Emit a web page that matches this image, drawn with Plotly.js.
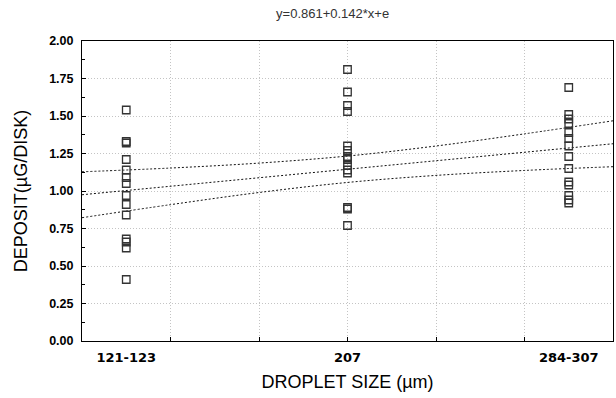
<!DOCTYPE html>
<html>
<head>
<meta charset="utf-8">
<script src="https://cdn.plot.ly/plotly-3.0.1.min.js"></script>
<style>html,body{margin:0;padding:0;background:#fff;}#chart{width:616px;height:398px;}</style>
</head>
<body>
<div id="chart"></div>
<script>
// Category codes and labels
var categoryCodes = [1, 2, 3];
var categoryLabels = ['121-123', '207', '284-307'];

// Deposit values (µG/DISK) per droplet-size group
var deposit121 = [1.54, 1.33, 1.32, 1.21, 1.14, 1.09, 1.05, 0.97, 0.91, 0.84, 0.68, 0.66, 0.62, 0.41];
var deposit207 = [1.81, 1.66, 1.57, 1.53, 1.30, 1.27, 1.23, 1.21, 1.17, 1.14, 1.12, 0.89, 0.88, 0.77];
var deposit284 = [1.69, 1.51, 1.48, 1.45, 1.39, 1.35, 1.30, 1.23, 1.15, 1.06, 1.04, 0.97, 0.94, 0.92];

// Regression line and confidence band
var bandX = [0.8, 1.2, 1.6, 2.0, 2.4, 2.8, 3.2];
var fitY = [0.975, 1.031, 1.088, 1.145, 1.202, 1.259, 1.315];
var upperY = [1.128, 1.153, 1.186, 1.233, 1.300, 1.381, 1.468];
var lowerY = [0.822, 0.909, 0.990, 1.057, 1.104, 1.137, 1.162];

// Axis ticks
var xGridVals = [1.2, 1.6, 2.0, 2.4, 2.8];
var yTickVals = [0, 0.25, 0.5, 0.75, 1.0, 1.25, 1.5, 1.75, 2.0];
var yTickText = ['0.00', '0.25', '0.50', '0.75', '1.00', '1.25', '1.50', '1.75', '2.00'];

var groups = [deposit121, deposit207, deposit284];
var px = [], py = [];
groups.forEach(function (g, i) {
  g.forEach(function (v) { px.push(categoryCodes[i]); py.push(v); });
});

var FONT = 'Liberation Sans, Arial, Helvetica, sans-serif';
var WIDE = 'DejaVu Sans, Liberation Sans, sans-serif';
var lineStyle = {color: '#111', width: 1, dash: '2px,2px', shape: 'spline'};

var traces = [
  {x: bandX, y: upperY, xaxis: 'x', yaxis: 'y', mode: 'lines', line: lineStyle, hoverinfo: 'skip', showlegend: false},
  {x: bandX, y: fitY, xaxis: 'x', yaxis: 'y', mode: 'lines', line: {color: '#111', width: 1, dash: '2px,2px'}, hoverinfo: 'skip', showlegend: false},
  {x: bandX, y: lowerY, xaxis: 'x', yaxis: 'y', mode: 'lines', line: lineStyle, hoverinfo: 'skip', showlegend: false},
  {x: px, y: py, xaxis: 'x2', yaxis: 'y', mode: 'markers', type: 'scatter',
   marker: {symbol: 'square-open', size: 7.5, color: '#333', line: {width: 1.3, color: '#333'}}, showlegend: false}
];

var layout = {
  width: 616, height: 398,
  margin: {l: 82, r: 3, t: 41, b: 57},
  paper_bgcolor: '#fff', plot_bgcolor: '#fff',
  font: {family: FONT, color: '#000'},
  showlegend: false,
  title: {text: 'y=0.861+0.142*x+e', font: {family: FONT, size: 13, color: '#333'},
          xref: 'container', x: 0.54, xanchor: 'center', yref: 'container', y: 0.967, yanchor: 'middle'},
  xaxis: {
    range: [0.8, 3.2], tickmode: 'array', tickvals: xGridVals, showticklabels: false,
    showgrid: true, gridcolor: '#c4c4c4', griddash: '1px,2px', gridwidth: 1,
    ticks: 'inside', ticklen: 4, tickcolor: '#000',
    showline: true, linecolor: '#000', linewidth: 1, mirror: true, zeroline: false
  },
  xaxis2: {
    overlaying: 'x', anchor: 'y', side: 'bottom',
    range: [0.8, 3.2], tickmode: 'array', tickvals: categoryCodes, ticktext: categoryLabels,
    tickfont: {family: WIDE, size: 13, weight: 'bold', color: '#000'},
    ticklabelstandoff: 7,
    showgrid: false, ticks: '', showline: false, zeroline: false,
    title: {text: 'DROPLET SIZE (µm)', font: {family: FONT, size: 18, color: '#000'}, standoff: 11}
  },
  yaxis: {
    range: [0, 2], tickmode: 'array', tickvals: yTickVals, ticktext: yTickText,
    tickfont: {family: FONT, size: 12.5, weight: 'bold', color: '#000'},
    ticklabelstandoff: 5,
    showgrid: true, gridcolor: '#c4c4c4', griddash: '1px,2px', gridwidth: 1,
    ticks: 'inside', ticklen: 4, tickcolor: '#000',
    minor: {dtick: 0.125, tick0: 0, ticks: 'inside', ticklen: 3, tickcolor: '#000', showgrid: false},
    showline: true, linecolor: '#000', linewidth: 1, mirror: true, zeroline: false,
    title: {text: 'DEPOSIT(µG/DISK)', font: {family: FONT, size: 18, color: '#000'}, standoff: 16}
  }
};

Plotly.newPlot('chart', traces, layout, {staticPlot: true, displayModeBar: false});
</script>
</body>
</html>
